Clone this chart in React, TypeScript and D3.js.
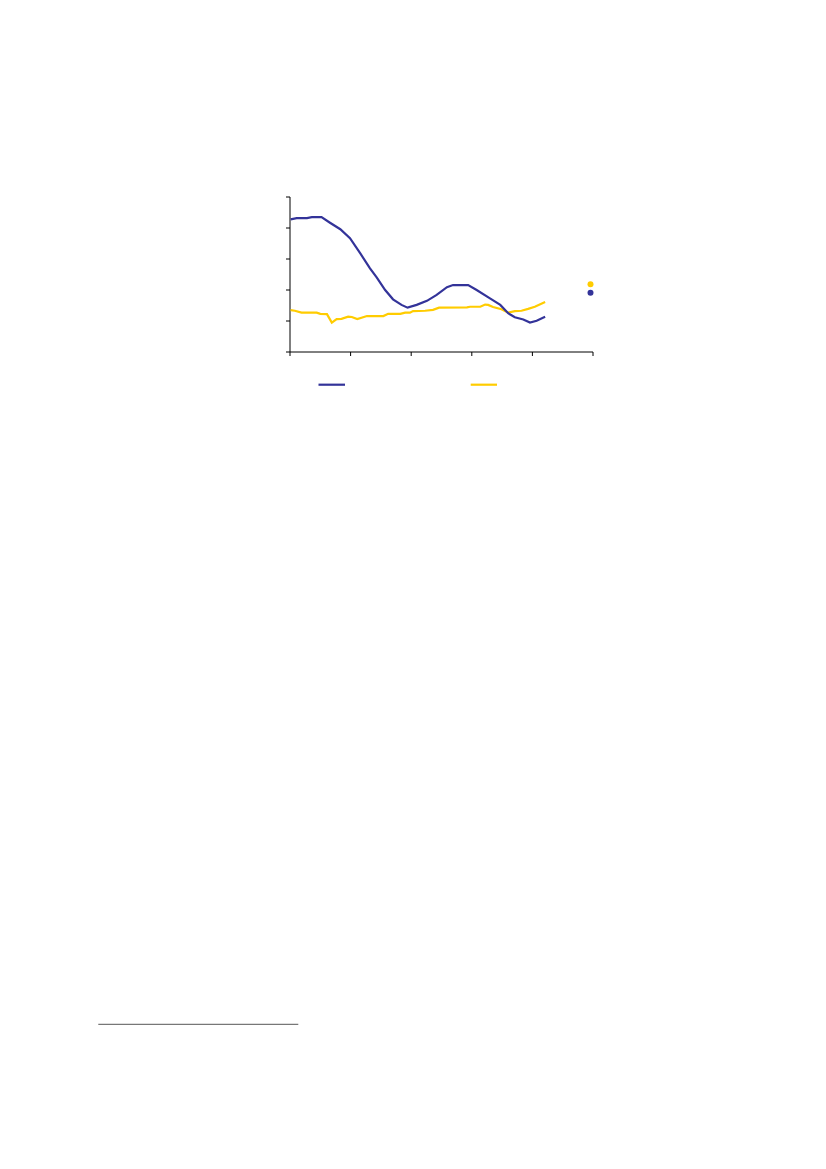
import * as d3 from 'd3';

// series values: [x, value]
const blueSeries: [number, number][] = [
  [0.1, 4.28], [1.1, 4.32], [2.8, 4.32], [3.6, 4.35], [5.2, 4.35], [6.6, 4.17],
  [8.3, 3.96], [9.9, 3.67], [11.6, 3.18], [13.2, 2.7], [14.3, 2.41], [15.7, 2.0],
  [17.0, 1.7], [18.4, 1.52], [19.4, 1.43], [20.9, 1.52], [22.6, 1.65], [24.2, 1.84],
  [25.9, 2.09], [26.9, 2.16], [29.4, 2.16], [30.8, 2.0], [33.0, 1.73], [34.7, 1.52],
  [36.0, 1.25], [37.1, 1.12], [38.5, 1.05], [39.6, 0.95], [40.7, 1.01], [42.1, 1.14],
];

const yellowSeries: [number, number][] = [
  [0.1, 1.35], [0.8, 1.33], [1.9, 1.27], [4.4, 1.27], [5.0, 1.23], [6.1, 1.22],
  [6.9, 0.95], [7.7, 1.06], [8.5, 1.07], [9.6, 1.14], [10.2, 1.13], [11.1, 1.06],
  [12.7, 1.16], [15.4, 1.16], [16.2, 1.23], [18.2, 1.23], [19.0, 1.27], [19.8, 1.27],
  [20.3, 1.32], [22.3, 1.33], [23.6, 1.36], [24.6, 1.43], [29.2, 1.44], [29.7, 1.46],
  [31.4, 1.46], [32.2, 1.53], [32.7, 1.52], [33.5, 1.45], [34.9, 1.38], [36.0, 1.27],
  [37.1, 1.32], [38.2, 1.33], [39.3, 1.39], [40.4, 1.46], [42.1, 1.61],
];

const xTicks = [0, 10, 20, 30, 40, 50];
const yTicks = [0, 1, 2, 3, 4, 5];

const BLUE = '#333399';
const YELLOW = '#ffcc00';

export default function App() {
  const x = d3.scaleLinear().domain([0, 50]).range([290, 593]);
  const y = d3.scaleLinear().domain([0, 5]).range([352, 197]);

  const line = d3.line<[number, number]>()
    .x(d => x(d[0]))
    .y(d => y(d[1]));

  return (
    <svg width={826} height={1169} style={{ position: 'absolute', left: 0, top: 0 }}>
      <rect width={826} height={1169} fill="#fff" />

      {/* axes */}
      <line x1={x(0)} x2={x(0)} y1={y(5)} y2={y(0)} stroke="#000" />
      <line x1={x(0)} x2={x(50)} y1={y(0)} y2={y(0)} stroke="#000" />
      {yTicks.map(t => (
        <line key={'y' + t} x1={x(0) - 4} x2={x(0)} y1={y(t)} y2={y(t)} stroke="#000" />
      ))}
      {xTicks.map(t => (
        <line key={'x' + t} x1={x(t)} x2={x(t)} y1={y(0)} y2={y(0) + 4} stroke="#000" />
      ))}

      {/* series */}
      <path d={line(yellowSeries) ?? ''} fill="none" stroke={YELLOW} strokeWidth={2.2} />
      <path d={line(blueSeries) ?? ''} fill="none" stroke={BLUE} strokeWidth={2.2} />

      {/* end markers */}
      <circle cx={590.5} cy={284.3} r={3} fill={YELLOW} />
      <circle cx={590.5} cy={292.7} r={3} fill={BLUE} />

      {/* legend */}
      <line x1={318.5} x2={345} y1={384.7} y2={384.7} stroke={BLUE} strokeWidth={2.2} />
      <line x1={470.7} x2={497} y1={384.7} y2={384.7} stroke={YELLOW} strokeWidth={2.2} />

      {/* footnote rule */}
      <line x1={98.3} x2={298.3} y1={1024.3} y2={1024.3} stroke="#555" strokeWidth={1} />
    </svg>
  );
}
